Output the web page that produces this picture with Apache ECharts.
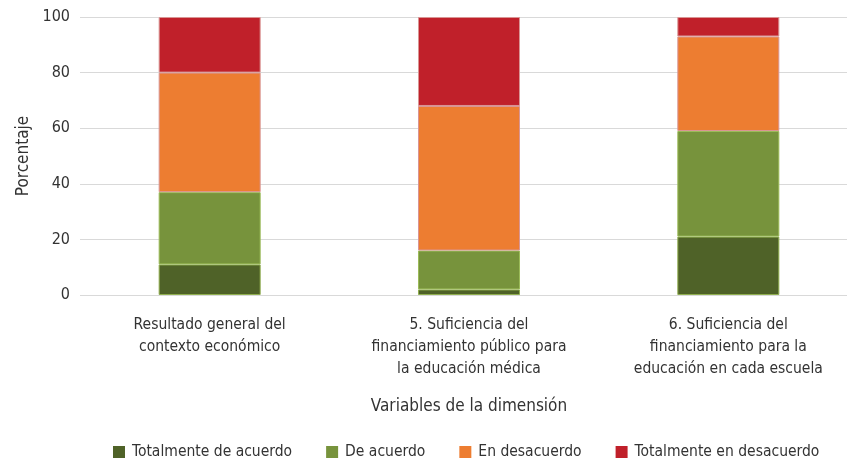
<!DOCTYPE html>
<html>
<head>
<meta charset="utf-8">
<script src="https://cdn.jsdelivr.net/npm/echarts@6/dist/echarts.min.js"></script>
<style>html,body{margin:0;padding:0;background:#fff}#c{width:847px;height:461px}</style>
</head>
<body>
<div id="c"></div>
<script>
const categories = [
  "Resultado general del\ncontexto económico",
  "5. Suficiencia del\nfinanciamiento público para\nla educación médica",
  "6. Suficiencia del\nfinanciamiento para la\neducación en cada escuela"
];
const seriesNames = ["Totalmente de acuerdo", "De acuerdo", "En desacuerdo", "Totalmente en desacuerdo"];
const totalmenteDeAcuerdo = [11, 2, 21];
const deAcuerdo = [26, 14, 38];
const enDesacuerdo = [43, 52, 34];
const totalmenteEnDesacuerdo = [20, 32, 7];
const yTicks = [0, 20, 40, 60, 80, 100];

const FONT = '"Liberation Sans Narrow", "DejaVu Sans Condensed", sans-serif';
const TXT = '#333333';
const colors = ['#4f6228', '#77933c', '#ed7d31', '#c0202a'];
const borders = ['#8fae4e', '#9bbb59', '#d99594', '#d99594'];
const values = [totalmenteDeAcuerdo, deAcuerdo, enDesacuerdo, totalmenteEnDesacuerdo];

const chart = echarts.init(document.getElementById('c'), null, {renderer: 'canvas'});
chart.setOption({
  animation: false,
  backgroundColor: '#ffffff',
  textStyle: {fontFamily: FONT},
  grid: {left: 80, top: 17, width: 778, height: 278, containLabel: false, outerBoundsMode: 'none'},
  legend: {
    left: 113, top: 444, width: 734, padding: 0,
    itemWidth: 12, itemHeight: 12, itemGap: 34,
    icon: 'rect',
    itemStyle: {borderWidth: 0},
    textStyle: {fontFamily: FONT, fontSize: 15.5, color: TXT, padding: [0, 0, 0, 2]},
    data: seriesNames
  },
  xAxis: {
    type: 'category',
    data: categories,
    axisTick: {show: false},
    axisLine: {show: false},
    axisLabel: {fontFamily: FONT, fontSize: 15.5, color: TXT, lineHeight: 22, margin: 19, interval: 0},
    name: 'Variables de la dimensión',
    nameLocation: 'middle',
    nameGap: 103,
    nameTextStyle: {fontFamily: FONT, fontSize: 17, color: TXT}
  },
  yAxis: {
    type: 'value',
    min: yTicks[0], max: yTicks[yTicks.length - 1], interval: 20,
    axisLine: {show: false},
    axisTick: {show: false},
    splitLine: {lineStyle: {color: '#d9d9d9', width: 1}},
    axisLabel: {fontFamily: FONT, fontSize: 16, color: TXT, margin: 10},
    name: 'Porcentaje',
    nameLocation: 'middle',
    nameGap: 48,
    nameRotate: 90,
    nameTextStyle: {fontFamily: FONT, fontSize: 17, color: TXT}
  },
  series: seriesNames.map((n, i) => ({
    name: n,
    type: 'bar',
    stack: 'total',
    barWidth: 102,
    data: values[i],
    itemStyle: {color: colors[i], borderColor: borders[i], borderWidth: 1}
  }))
});
</script>
</body>
</html>
